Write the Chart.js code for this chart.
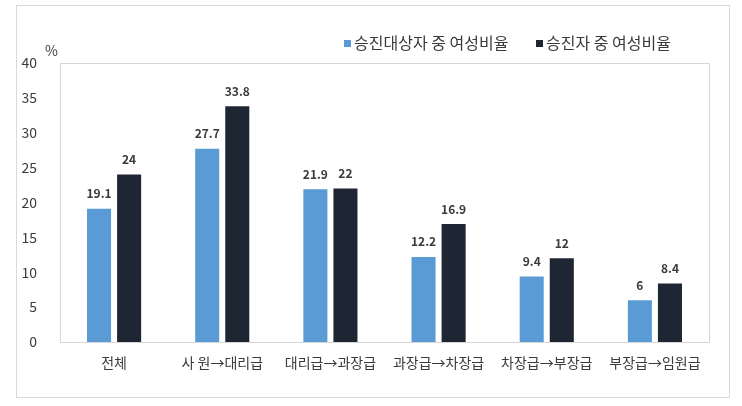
<!DOCTYPE html>
<html>
<head>
<meta charset="utf-8">
<script src="https://cdn.jsdelivr.net/npm/chart.js@4/dist/chart.umd.min.js"></script>
<style>
  body { margin: 0; background: #fff; }
  #wrap { width: 742px; height: 406px; }
</style>
</head>
<body>
<div id="wrap"><canvas id="chart" width="742" height="406"></canvas></div>
<script>
const categories = ['전체', '사 원→대리급', '대리급→과장급', '과장급→차장급', '차장급→부장급', '부장급→임원급'];
const seriesNames = ['승진대상자 중 여성비율', '승진자 중 여성비율'];
const candidateShare = [19.1, 27.7, 21.9, 12.2, 9.4, 6];
const promotedShare = [24, 33.8, 22, 16.9, 12, 8.4];
const yTicks = [0, 5, 10, 15, 20, 25, 30, 35, 40];

const colors = ['#5b9bd5', '#1f2633'];
const FONT = '"Noto Sans CJK KR", "Noto Sans", sans-serif';
const legendX = [344, 536]; // left edge of each legend swatch

// frame, plot border, legend, % label and value labels
const decorPlugin = {
    id: 'decor',
    beforeDraw(chart) {
        const c = chart.ctx;
        c.save();
        c.strokeStyle = '#d9d9d9';
        c.lineWidth = 1;
        c.strokeRect(16.5, 5.5, 713, 392);
        c.restore();
    },
    afterDatasetsDraw(chart) {
        const c = chart.ctx;
        const a = chart.chartArea;
        c.save();
        c.strokeStyle = '#d6d6d6';
        c.lineWidth = 1;
        c.strokeRect(Math.round(a.left) + 0.5, Math.round(a.top) + 0.5,
            Math.round(a.right - a.left), Math.round(a.bottom - a.top));

        // value labels
        c.font = 'bold 12px ' + FONT;
        c.fillStyle = '#3a3a3a';
        c.textAlign = 'center';
        c.textBaseline = 'bottom';
        chart.data.datasets.forEach((ds, i) => {
            chart.getDatasetMeta(i).data.forEach((bar, j) => {
                c.fillText(String(ds.data[j]), bar.x, bar.y - 9);
            });
        });

        // % unit
        c.font = '14px ' + FONT;
        c.fillStyle = '#3a3a3a';
        c.textAlign = 'left';
        c.textBaseline = 'middle';
        c.fillText('%', 45, 51);

        // legend
        c.font = '16px ' + FONT;
        c.textBaseline = 'middle';
        const y = 43;
        seriesNames.forEach((name, i) => {
            const x = legendX[i];
            c.fillStyle = colors[i];
            c.fillRect(x, y - 3, 7, 7);
            c.fillStyle = '#3a3a3a';
            c.fillText(name, x + 10, y);
        });
        c.restore();
    }
};

new Chart(document.getElementById('chart').getContext('2d'), {
    type: 'bar',
    data: {
        labels: categories,
        datasets: [
            { label: seriesNames[0], data: candidateShare, backgroundColor: colors[0] },
            { label: seriesNames[1], data: promotedShare, backgroundColor: colors[1] }
        ]
    },
    options: {
        responsive: false,
        animation: false,
        layout: { padding: { top: 63, right: 33, bottom: 0, left: 0 } },
        datasets: { bar: { categoryPercentage: 0.556, barPercentage: 0.8 } },
        scales: {
            x: {
                grid: { display: false },
                border: { display: false },
                ticks: { color: '#3a3a3a', font: { family: FONT, size: 14 }, padding: 4 },
                afterFit(s) { s.height = 64; }
            },
            y: {
                min: 0, max: 40,
                afterBuildTicks(s) { s.ticks = yTicks.map(v => ({ value: v })); },
                grid: { display: false },
                border: { display: false },
                ticks: { color: '#3a3a3a', font: { family: FONT, size: 14 }, padding: 15 },
                afterFit(s) { s.width = 60; }
            }
        },
        plugins: {
            legend: { display: false },
            tooltip: { enabled: false }
        }
    },
    plugins: [decorPlugin]
});
</script>
</body>
</html>
